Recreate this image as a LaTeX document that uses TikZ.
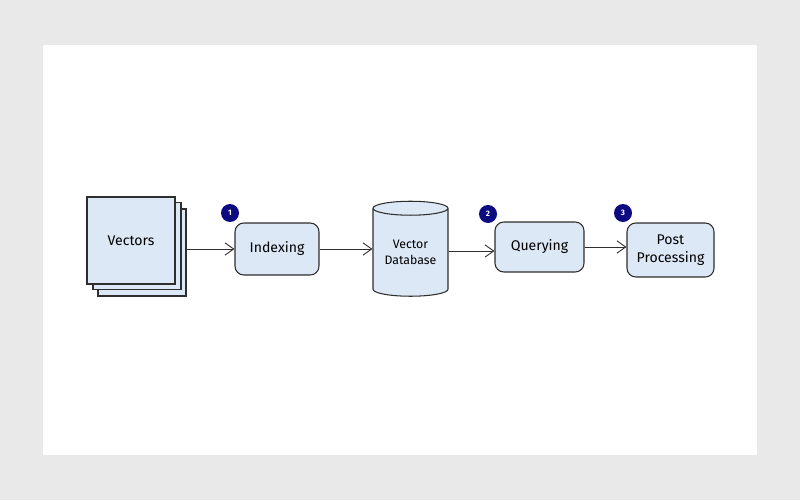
\documentclass[tikz,border=0pt]{standalone}
\usepackage{fontspec}
\setmainfont{Fira Sans}
\usetikzlibrary{shapes.geometric,arrows.meta}
\definecolor{boxfill}{HTML}{DCE8F6}
\definecolor{boxline}{HTML}{2E2E2E}
\definecolor{badgeblue}{HTML}{0C0C80}
\definecolor{pagegray}{HTML}{E9E9E9}
\begin{document}
\begin{tikzpicture}[x=0.02cm, y=-0.02cm,
    stepbox/.style={shape=rectangle, draw=boxline, fill=boxfill, line width=0.6pt, rounded corners=5pt, inner sep=0, align=center, font=\fontsize{8}{10}\selectfont},
    sheet/.style={shape=rectangle, draw=boxline, fill=boxfill, line width=0.6pt, inner sep=0, minimum width=1.76cm, minimum height=1.74cm, font=\fontsize{8}{10}\selectfont},
    badge/.style={shape=circle, fill=badgeblue, text=white, inner sep=0, minimum size=0.36cm, font=\fontsize{4.5}{5}\bfseries},
    wire/.style={-{Straight Barb[length=5pt, width=7pt]}, draw=boxline, line width=0.5pt}]
        % Background:
        \fill[pagegray] (0,0) rectangle (800,500);
        \fill[white] (43,45) rectangle (757,455);
        \useasboundingbox (0,0) rectangle (800,500);
        % Paths, nodes and wires:
        \node[sheet] (vec3) at (142,252.5){};
        \node[sheet] (vec2) at (137,246){};
        \node[sheet] (vec1) at (131,240.5){Vectors};
        \node[stepbox, minimum width=1.68cm, minimum height=1.04cm] (idx) at (277,249){Indexing};
        \node[shape=cylinder, shape border rotate=90, aspect=0.27, draw=boxline, fill=boxfill, line width=0.6pt, inner sep=0, minimum width=1.5cm, minimum height=1.9cm, align=center, font=\fontsize{7}{9}\selectfont] (db) at (410.5,252.5){Vector\\Database};
        \node[stepbox, minimum width=1.78cm, minimum height=1.0cm] (qry) at (539.5,247){Querying};
        \node[stepbox, minimum width=1.74cm, minimum height=1.08cm] (post) at (670.5,250){Post\\Processing};
        \node[badge] (b1) at (230,213){1};
        \node[badge] (b2) at (488,214){2};
        \node[badge] (b3) at (623,213){3};
        \draw[wire] (vec3.east |- idx.west) -- (idx.west);
        \draw[wire] (idx.east) -- (db.west |- idx.east);
        \draw[wire] (db.east |- 0,251) -- (qry.west |- 0,251);
        \draw[wire] (qry.east) -- (post.west |- qry.east);
      \end{tikzpicture}
\end{document}
